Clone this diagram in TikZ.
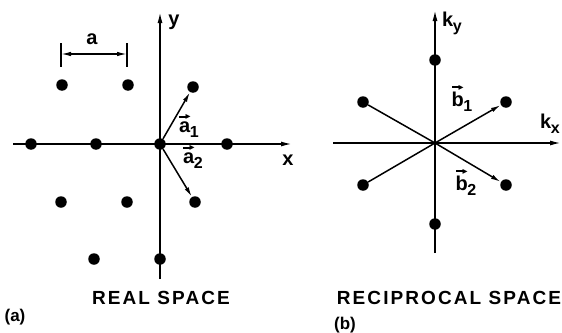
\documentclass[tikz,border=0pt]{standalone}
\usepackage{fontspec}
\setmainfont{Liberation Sans}[BoldFont={Liberation Sans Bold}]
\newfontfamily\capfont{Liberation Sans}[BoldFont={Liberation Sans Bold},LetterSpace=11]
\newfontfamily\symfont{DejaVu Sans}
\usetikzlibrary{arrows.meta}
\tikzset{
  dot/.style={circle, fill=black, inner sep=0pt, minimum size=11.5pt},
  axisline/.style={line width=1.6pt, -{Latex[length=11pt,width=5pt]}},
  plainline/.style={line width=1.5pt},
  vecline/.style={line width=1.5pt, -{Latex[length=10pt,width=4.5pt]}},
  lbl/.style={inner sep=0pt, font=\bfseries\fontsize{20}{20}\selectfont},
  caption/.style={inner sep=0pt, font=\capfont\bfseries\fontsize{19}{19}\selectfont},
  tag/.style={inner sep=0pt, font=\bfseries\fontsize{17}{17}\selectfont},
}
\newcommand\vecsym[1]{\setbox0=\hbox{#1}\vbox{\offinterlineskip\hbox to\wd0{\hss\vrule height 0.75pt depth 0.75pt width 8pt\kern-1.5pt\raisebox{-2.9pt}{\symfont\fontsize{10}{10}\selectfont ▸}\hss}\kern1.5pt\box0}}
\newcommand\subsc[1]{\kern-0.5pt\raisebox{-5pt}{\fontsize{16}{16}\selectfont #1}}
\begin{document}
\begin{tikzpicture}[x=1pt,y=-1pt]
\useasboundingbox (0,0) rectangle (562,332);
% ---------- left: real space ----------
\coordinate (xl) at (13,144);
\coordinate (xr) at (292,144);
\coordinate (yb) at (160,279);
\coordinate (yt) at (160,12);
\draw[axisline] (xl) -- (xr);
\draw[axisline] (yb) -- (yt);
\node[dot] (o) at (160,144) {};
\node[dot] (L1) at (62,85) {};
\node[dot] (L2) at (128,85) {};
\node[dot] (L3) at (193,87) {};
\node[dot] (L4) at (31,144) {};
\node[dot] (L5) at (96,144) {};
\node[dot] (L6) at (227,144) {};
\node[dot] (L7) at (61,202) {};
\node[dot] (L8) at (127,202) {};
\node[dot] (L9) at (195,202) {};
\node[dot] (L10) at (94,259) {};
\node[dot] (L11) at (160,259) {};
\draw[vecline] (o) -- (L3);
\draw[vecline] (o) -- (L9);
\node[lbl] (ylab) at (174,22) {y};
\node[lbl] (xlab) at (288,160) {x};
\node[lbl] (a1lab) at (189,126) {\vecsym{a}\subsc{1}};
\node[lbl] (a2lab) at (193,157) {\vecsym{a}\subsc{2}};
% scale bar
\coordinate (t1a) at (61,43);
\coordinate (t1b) at (61,67);
\coordinate (t2a) at (127,43);
\coordinate (t2b) at (127,67);
\coordinate (sa) at (61,54);
\coordinate (sb) at (127,54);
\draw[line width=1.3pt] (t1a) -- (t1b);
\draw[line width=1.3pt] (t2a) -- (t2b);
\draw[line width=1.3pt, {Latex[length=10pt,width=4.5pt]}-{Latex[length=10pt,width=4.5pt]}] (sa) -- (sb);
\node[lbl] (alab) at (92,39) {a};
\node[caption] (real) at (161,298) {REAL SPACE};
\node[tag] (tagA) at (15,317) {(a)};
% ---------- right: reciprocal space ----------
\coordinate (kxl) at (333,143);
\coordinate (kxr) at (561,143);
\coordinate (kyb) at (435,253);
\coordinate (kyt) at (435,10);
\draw[axisline] (kxl) -- (kxr);
\draw[axisline] (kyb) -- (kyt);
\node[dot, minimum size=3pt] (p) at (435,143) {};
\node[dot] (R1) at (435,60) {};
\node[dot] (R2) at (435,224) {};
\node[dot] (R3) at (363,102) {};
\node[dot] (R4) at (506,102) {};
\node[dot] (R5) at (363,185) {};
\node[dot] (R6) at (506,185) {};
\draw[plainline] (R3) -- (p.center);
\draw[plainline] (R5) -- (p.center);
\draw[vecline] (p.center) -- (R4);
\draw[vecline] (p.center) -- (R6);
\node[lbl] (kylab) at (452,23) {k\subsc{y}};
\node[lbl] (kxlab) at (550,124) {k\subsc{x}};
\node[lbl] (b1lab) at (462,98) {\vecsym{b}\subsc{1}};
\node[lbl] (b2lab) at (466,182) {\vecsym{b}\subsc{2}};
\node[caption] (recip) at (449,298) {RECIPROCAL SPACE};
\node[tag] (tagB) at (345,325) {(b)};
\end{tikzpicture}
\end{document}
